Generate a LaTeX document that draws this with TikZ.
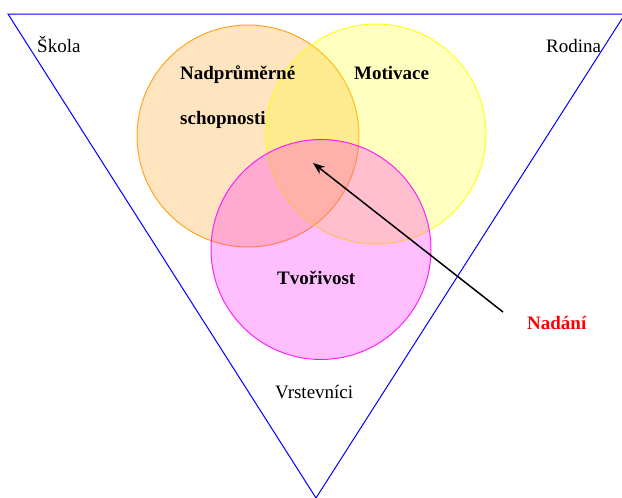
\documentclass[tikz,border=0pt]{standalone}
\usepackage{fontspec}
\setmainfont{Liberation Serif}
\usetikzlibrary{arrows.meta}
\definecolor{ringorange}{RGB}{255,153,0}
\definecolor{ringyellow}{RGB}{255,255,0}
\definecolor{ringmagenta}{RGB}{255,0,255}
\definecolor{edgeblue}{RGB}{0,0,255}
\tikzset{
  ring/.style={line width=1pt, fill opacity=0.25, draw opacity=0.85},
  label/.style={inner sep=0pt, anchor=base west, font=\fontsize{19}{22}\selectfont},
  boldlabel/.style={label, font=\fontsize{19}{22}\selectfont\bfseries},
  frame/.style={draw=edgeblue, line width=1pt},
  pointer/.style={draw=black, line width=1.5pt, -{Stealth[length=12pt,width=9pt]}}
}
\begin{document}
\begin{tikzpicture}[x=1pt,y=-1pt]
  \useasboundingbox (0,0) rectangle (622,498);
  \fill[white] (0,0) rectangle (622,498);
  % surrounding triangle
  \draw[frame] (8,14) -- (625,14) -- (316,498) -- cycle;
  % the three overlapping circles
  \filldraw[ring, draw=ringorange, fill=ringorange] (248,136) circle[radius=111];
  \filldraw[ring, draw=ringyellow, fill=ringyellow] (376,134) circle[radius=110];
  \filldraw[ring, draw=ringmagenta, fill=ringmagenta] (321,249.5) circle[radius=110];
  % labels
  \node[label] (skola) at (37,52.5) {Škola};
  \node[label] (rodina) at (546,52) {Rodina};
  \node[boldlabel] (nadpr) at (180,79) {Nadprůměrné};
  \node[boldlabel] (schop) at (180,124.5) {schopnosti};
  \node[boldlabel] (motiv) at (354,79) {Motivace};
  \node[boldlabel] (tvor) at (277,284) {Tvořivost};
  \node[label] (vrst) at (275,398) {Vrstevníci};
  \node[boldlabel, text=red] (nadani) at (527,329) {Nadání};
  % arrow into the common area
  \coordinate (tail) at (503,312);
  \coordinate (core) at (313,163);
  \draw[pointer] (tail) -- (core);
\end{tikzpicture}
\end{document}
